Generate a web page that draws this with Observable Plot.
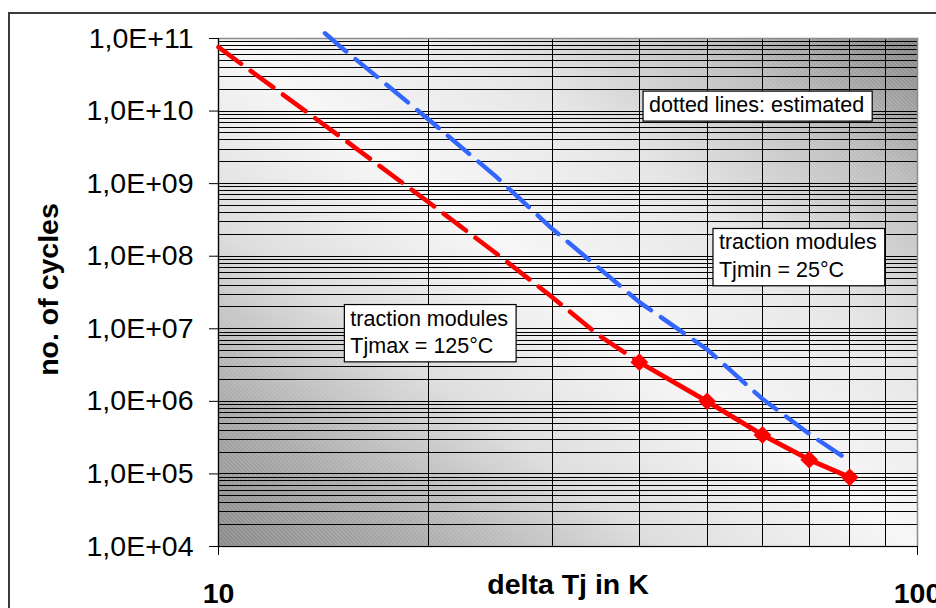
<!DOCTYPE html>
<html><head><meta charset="utf-8">
<script src="https://cdn.jsdelivr.net/npm/d3@7"></script>
<script src="https://cdn.jsdelivr.net/npm/@observablehq/plot@0.6"></script>
<style>
html,body{margin:0;padding:0;background:#fff;overflow:hidden}
#wrap{position:relative;width:936px;height:608px;overflow:hidden}
#wrap svg{position:absolute;left:0;top:0}
#border{position:absolute;left:8px;top:12px;width:1200px;height:1200px;border:2px solid #3c3c3c;box-sizing:border-box;pointer-events:none}
</style></head><body>
<div id="wrap"><div id="border"></div></div>
<script>
const FONT = "'Liberation Sans', Arial, Helvetica, sans-serif";

// Tjmax = 125°C, estimated (dotted)
const redEstX = [10, 15, 20, 25, 30, 35, 40];
const redEstY = [7.6e10, 4.3e9, 5.5e8, 1.08e8, 2.74e7, 8.1e6, 3.46e6];
// Tjmax = 125°C, measured (solid with markers)
const redMeasX = [40, 50, 60, 70, 80];
const redMeasY = [3.46e6, 1.0e6, 3.45e5, 1.57e5, 8.98e4];
// Tjmin = 25°C, estimated (dotted)
const blueEstX = [14.2, 15, 20, 25, 30, 35, 40, 50, 60, 70, 80];
const blueEstY = [1.18e11, 7.5e10, 7.6e9, 1.23e9, 2.4e8, 6.9e7, 2.33e7, 5.2e6, 1.08e6, 3.56e5, 1.5e5];

const yTicks = [1e4, 1e5, 1e6, 1e7, 1e8, 1e9, 1e10, 1e11];
const yTickLabels = ["1,0E+04", "1,0E+05", "1,0E+06", "1,0E+07", "1,0E+08", "1,0E+09", "1,0E+10", "1,0E+11"];
const xTicks = [10, 100];
const xTickLabels = ["10", "100"];
const xGrid = [20, 30, 40, 50, 60, 70, 80, 90];
const minorMult = [1, 2, 3, 4, 5, 6, 7, 8, 9];

const noteTexts = ["dotted lines: estimated", "traction modules\nTjmin = 25°C", "traction modules\nTjmax = 125°C"];
const noteX = [41.3, 52.0, 15.44];
const noteY = [1.79e10, 2.29e8, 2.05e7];

const xTitle = "delta Tj in K";
const yTitle = "no. of cycles";

const zip = (xs, ys) => xs.map((x, i) => ({x, y: ys[i]}));
const yGrid = yTicks.slice(0, -1).flatMap(p => minorMult.map(m => p * m)).concat([yTicks[yTicks.length - 1]]);
const notes = noteTexts.map((text, i) => ({text, x: noteX[i], y: noteY[i]}));

const chart = Plot.plot({
  width: 936, height: 608,
  marginLeft: 218, marginRight: 19, marginTop: 38, marginBottom: 62,
  style: {fontFamily: FONT, background: "transparent", overflow: "visible", color: "#000"},
  x: {type: "log", domain: [10, 100]},
  y: {type: "log", domain: [1e4, 1e11]},
  marks: [
    Plot.frame({fill: "url(#bgGrad)", stroke: "none"}),
    Plot.frame({fill: "url(#hatch)", stroke: "none"}),
    Plot.ruleY(yGrid, {stroke: "#000", strokeWidth: 1, shapeRendering: "crispEdges"}),
    Plot.ruleX(xGrid, {stroke: "#000", strokeWidth: 1, shapeRendering: "crispEdges"}),
    Plot.frame({stroke: "#8a8a8a", strokeWidth: 1.5}),
    Plot.ruleX([10], {stroke: "#000", strokeWidth: 1.2}),
    Plot.ruleY([1e4], {stroke: "#000", strokeWidth: 1.2}),
    Plot.axisY({ticks: yTicks, tickFormat: d => yTickLabels[yTicks.indexOf(d)], tickSize: 9, tickPadding: 16,
      fontSize: 28.5, label: null, stroke: "#000", fill: "#000"}),
    Plot.axisX({ticks: xTicks, tickFormat: d => xTickLabels[xTicks.indexOf(d)], tickSize: 9, tickPadding: 27,
      fontSize: 28.5, fontWeight: "bold", label: null, stroke: "#000", fill: "#000"}),
    Plot.line(zip(redEstX, redEstY), {x: "x", y: "y", stroke: "#ff0000", strokeWidth: 4.6, strokeDasharray: "28,12"}),
    Plot.line(zip(blueEstX, blueEstY), {x: "x", y: "y", stroke: "#3366ff", strokeWidth: 4.4, strokeDasharray: "28,12"}),
    Plot.line(zip(redMeasX, redMeasY), {x: "x", y: "y", stroke: "#ff0000", strokeWidth: 4.8}),
    Plot.dot(zip(redMeasX, redMeasY), {x: "x", y: "y", symbol: "diamond2", r: 8, fill: "#ff0000", stroke: "none"}),
    Plot.text(notes, {x: "x", y: "y", text: "text", textAnchor: "start", lineAnchor: "top", fontSize: 21.5, lineHeight: 1.27, fill: "#000"}),
    Plot.text([xTitle], {text: d => d, frameAnchor: "bottom", dy: 47, fontSize: 28.5, fontWeight: "bold", fill: "#000"}),
    Plot.text([yTitle], {text: d => d, frameAnchor: "left", textAnchor: "middle", rotate: -90, dx: -170, dy: -3, fontSize: 28.5, fontWeight: "bold", fill: "#000"})
  ]
});

document.getElementById("wrap").insertBefore(chart, document.getElementById("border"));

// background gradient + texture
const svg = d3.select(chart);
const defs = svg.insert("defs", ":first-child");
const grad = defs.append("linearGradient").attr("id", "bgGrad")
  .attr("x1", 0).attr("y1", 1).attr("x2", 1).attr("y2", 0);
[[0, "#868686"], [0.15, "#a9a9a9"], [0.32, "#dcdcdc"], [0.5, "#f6f6f6"], [0.68, "#e4e4e4"], [0.85, "#bababa"], [1, "#828282"]]
  .forEach(([o, c]) => grad.append("stop").attr("offset", o).attr("stop-color", c));
const pat = defs.append("pattern").attr("id", "hatch").attr("patternUnits", "userSpaceOnUse").attr("width", 4).attr("height", 4);
pat.append("path").attr("d", "M-1,-1L5,5M3,-1L5,1M-1,3L1,5").attr("stroke", "#fff").attr("stroke-opacity", 0.3).attr("stroke-width", 1);

// white boxes behind the note texts
chart.querySelectorAll("text").forEach(t => {
  const s = t.textContent;
  if (s.startsWith("dotted") || s.startsWith("traction")) {
    const b = t.getBBox();
    const r = document.createElementNS("http://www.w3.org/2000/svg", "rect");
    r.setAttribute("x", b.x - 6);
    r.setAttribute("y", b.y - 2);
    r.setAttribute("width", b.width + 14);
    r.setAttribute("height", b.height + 6);
    r.setAttribute("fill", "#fff");
    r.setAttribute("stroke", "#000");
    r.setAttribute("stroke-width", 1.2);
    if (t.getAttribute("transform")) r.setAttribute("transform", t.getAttribute("transform"));
    t.parentNode.insertBefore(r, t);
  }
});
</script>
</body></html>
